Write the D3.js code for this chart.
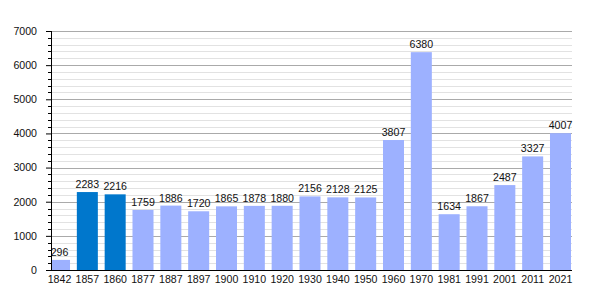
<!DOCTYPE html>
<html>
<head>
<meta charset="utf-8">
<script src="https://cdn.jsdelivr.net/npm/d3@7"></script>
<style>
  body { margin: 0; background: #fff; }
  text { font-family: "Liberation Sans", Arial, sans-serif; font-size: 10.6px; fill: #111; }
</style>
</head>
<body>
<div id="chart"></div>
<script>
// census years and population
const years = ["1842", "1857", "1860", "1877", "1887", "1897", "1900", "1910", "1920", "1930",
               "1940", "1950", "1960", "1970", "1981", "1991", "2001", "2011", "2021"];
const population = [296, 2283, 2216, 1759, 1886, 1720, 1865, 1878, 1880, 2156,
                    2128, 2125, 3807, 6380, 1634, 1867, 2487, 3327, 4007];
// years drawn in the darker colour
const highlighted = ["1857", "1860"];
const yTicks = [0, 1000, 2000, 3000, 4000, 5000, 6000, 7000];

const width = 600, height = 300;
const margin = {top: 31, right: 28, bottom: 30, left: 51};

const svg = d3.select("#chart").append("svg")
    .attr("width", width)
    .attr("height", height);

// bands start a little left of the axis; the first bar gets clipped by it
const x = d3.scaleBand()
    .domain(years)
    .range([49, 571])
    .paddingInner(0.245)
    .paddingOuter(0);

const y = d3.scaleLinear()
    .domain([0, 7000])
    .range([height - margin.bottom, margin.top]);

svg.append("defs").append("clipPath")
    .attr("id", "plot")
    .append("rect")
    .attr("x", margin.left).attr("y", 0)
    .attr("width", width - margin.left - margin.right).attr("height", y(0));

// minor grid every 200
const minor = d3.range(200, 7001, 200).filter(d => d % 1000 !== 0);
svg.append("g").selectAll("line")
    .data(minor)
    .enter().append("line")
    .attr("x1", margin.left).attr("x2", width - margin.right)
    .attr("y1", d => Math.round(y(d)) + 0.5).attr("y2", d => Math.round(y(d)) + 0.5)
    .attr("stroke", "#e2e2e2");

// major grid
svg.append("g").selectAll("line")
    .data(yTicks.slice(1))
    .enter().append("line")
    .attr("x1", margin.left).attr("x2", width - margin.right)
    .attr("y1", d => Math.round(y(d)) + 0.5).attr("y2", d => Math.round(y(d)) + 0.5)
    .attr("stroke", "#aaaaaa");

// bars
svg.append("g")
    .attr("clip-path", "url(#plot)")
    .selectAll("rect")
    .data(years)
    .enter().append("rect")
    .attr("x", d => x(d))
    .attr("width", x.bandwidth())
    .attr("y", (d, i) => y(population[i]))
    .attr("height", (d, i) => y(0) - y(population[i]))
    .attr("fill", d => highlighted.includes(d) ? "#0077cc" : "#9db1ff");

// value labels
svg.append("g").selectAll("text")
    .data(years)
    .enter().append("text")
    .attr("x", d => x(d) + x.bandwidth() / 2)
    .attr("y", (d, i) => y(population[i]) - 4)
    .attr("text-anchor", "middle")
    .text((d, i) => population[i]);

// y axis with minor ticks
const yAxis = svg.append("g")
    .attr("transform", `translate(${margin.left},0)`);
yAxis.selectAll(".minor")
    .data(minor)
    .enter().append("line")
    .attr("x1", -3).attr("x2", 0)
    .attr("y1", d => Math.round(y(d)) + 0.5).attr("y2", d => Math.round(y(d)) + 0.5)
    .attr("stroke", "#000");
yAxis.call(d3.axisLeft(y).tickValues(yTicks).tickSize(5).tickPadding(9).tickFormat(d3.format("d")))
    .call(g => g.select(".domain").attr("d", `M0.5,${y(0)}V${y(7000)}`))
    .call(g => g.selectAll("text").style("font-size", "10.6px").attr("fill", "#111"));

// x axis
svg.append("g")
    .attr("transform", `translate(0,${y(0)})`)
    .call(d3.axisBottom(x).tickSize(0).tickPadding(5))
    .call(g => g.select(".domain").attr("d", `M${margin.left},0.5H${width - margin.right}`))
    .call(g => g.selectAll("text").style("font-size", "10.6px").attr("fill", "#111"));
</script>
</body>
</html>
